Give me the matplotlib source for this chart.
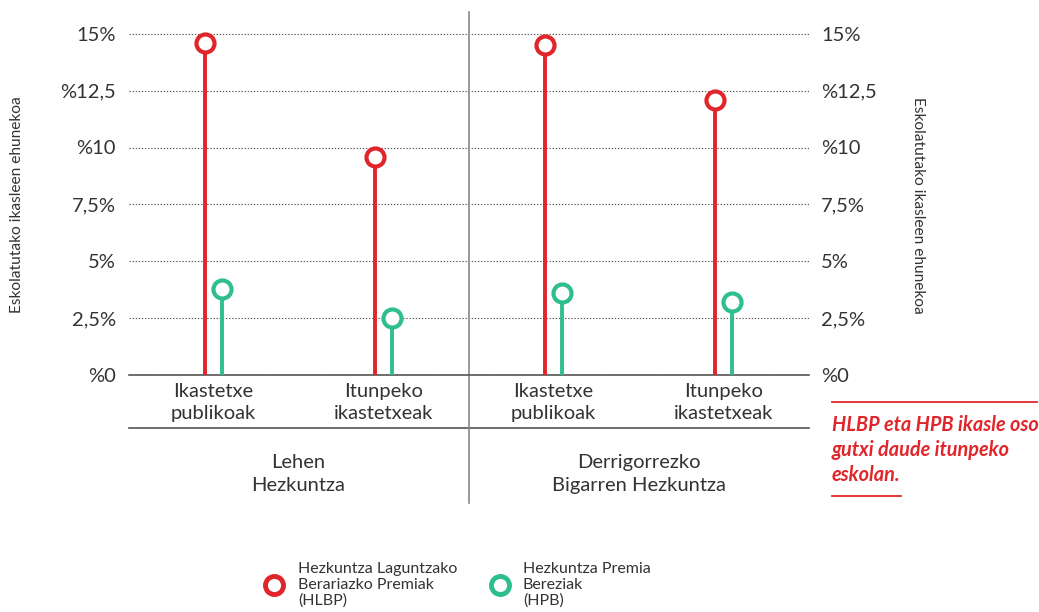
import matplotlib.pyplot as plt
from matplotlib.lines import Line2D

plt.rcParams['font.family'] = ['Lato', 'DejaVu Sans']

categories = ['Ikastetxe\npublikoak', 'Itunpeko\nikastetxeak',
              'Ikastetxe\npublikoak', 'Itunpeko\nikastetxeak']
groups = ['Lehen\nHezkuntza', 'Derrigorrezko\nBigarren Hezkuntza']
hlbp = [14.6, 9.6, 14.5, 12.1]
hpb = [3.8, 2.5, 3.6, 3.2]
yticks = [0, 2.5, 5, 7.5, 10, 12.5, 15]
ytick_labels = ['%0', '2,5%', '5%', '7,5%', '%10', '%12,5', '15%']

red = '#e0262b'
green = '#2fbf8e'
txt = '#333333'

W, H = 1039, 612
fig = plt.figure(figsize=(W / 100, H / 100), dpi=100)
ax = fig.add_axes([128.5 / W, 1 - 375 / H, 680 / W, 364 / H])
ax.set_xlim(-0.5, 3.5)
ax.set_ylim(0, 16)

off = 0.05
for i in range(len(categories)):
    ax.plot([i - off, i - off], [0, hlbp[i]], color=red, lw=2.8, zorder=3,
            solid_capstyle='butt')
    ax.plot(i - off, hlbp[i], 'o', ms=13, mfc='white', mec=red, mew=3, zorder=4)
    ax.plot([i + off, i + off], [0, hpb[i]], color=green, lw=2.8, zorder=3,
            solid_capstyle='butt')
    ax.plot(i + off, hpb[i], 'o', ms=13, mfc='white', mec=green, mew=3, zorder=4)

for s in ['top', 'left', 'right']:
    ax.spines[s].set_visible(False)
ax.spines['bottom'].set_color('#555555')
ax.spines['bottom'].set_linewidth(1.2)

ax.set_yticks(yticks)
ax.set_yticklabels(ytick_labels, fontsize=14.5, color=txt)
ax.tick_params(axis='y', length=0, pad=9, labelright=True)
for t in ax.yaxis.get_major_ticks():
    t.label2.set_fontsize(14.5)
    t.label2.set_color(txt)
ax.grid(axis='y', color='#555555', linestyle=(0, (1.2, 1.6)), linewidth=0.8)
ax.set_axisbelow(True)

ax.set_xticks(range(len(categories)))
ax.set_xticklabels(categories, fontsize=14.5, color=txt, linespacing=1.3)
ax.tick_params(axis='x', length=0, pad=6)

xt = ax.get_xaxis_transform()
ax.plot([-0.5, 3.5], [-0.146, -0.146], transform=xt, color='#555555', lw=1.2,
        clip_on=False)
ax.plot([1.5, 1.5], [-0.353, 0.997], transform=xt, color='#888888', lw=1.2,
        clip_on=False)
for g, label in enumerate(groups):
    ax.text(0.5 + 2 * g, -0.272, label, transform=xt, ha='center', va='center',
            fontsize=14.5, color=txt, linespacing=1.45)

fig.text(17 / W, 1 - 205 / H, 'Eskolatutako ikasleen ehunekoa', rotation=90,
         ha='center', va='center', fontsize=11.2, color=txt)
fig.text(918 / W, 1 - 205 / H, 'Eskolatutako ikasleen ehunekoa', rotation=270,
         ha='center', va='center', fontsize=11.2, color=txt)

# annotation
fig.add_artist(Line2D([832 / W, 1037 / W], [1 - 402 / H, 1 - 402 / H],
                      color=red, lw=1.3))
fig.add_artist(Line2D([832 / W, 901 / W], [1 - 496 / H, 1 - 496 / H],
                      color=red, lw=1.3))
fig.text(832 / W, 1 - 450 / H, 'HLBP eta HPB ikasle oso\ngutxi daude itunpeko\neskolan.',
         ha='left', va='center', fontsize=14.3, color=red, fontweight='bold',
         fontstyle='italic', linespacing=1.3)

# legend
leg = [(274, 298, red, 'Hezkuntza Laguntzako\nBerariazko Premiak\n(HLBP)'),
       (500, 523, green, 'Hezkuntza Premia\nBereziak\n(HPB)')]
for mx, tx, c, label in leg:
    fig.add_artist(Line2D([mx / W], [1 - 585 / H], marker='o', ms=13,
                          mfc='white', mec=c, mew=3.5, ls='none'))
    fig.text(tx / W, 1 - 585 / H, label, ha='left', va='center', fontsize=11.5,
             color=txt, linespacing=1.15)

fig.savefig('out.png', dpi=100)
